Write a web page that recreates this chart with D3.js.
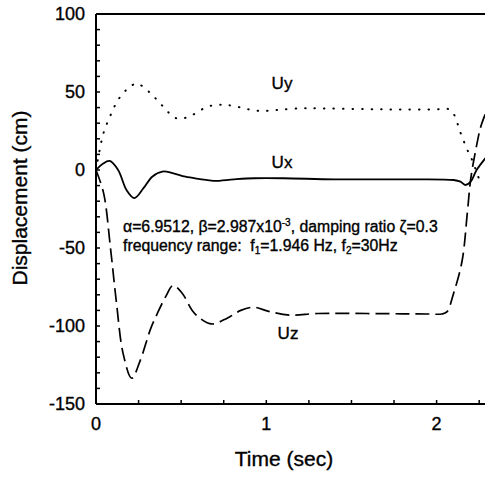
<!DOCTYPE html>
<html>
<head>
<meta charset="utf-8">
<script src="https://cdn.jsdelivr.net/npm/d3@7"></script>
<style>
  body { margin: 0; background: #fff; }
  text { font-family: "Liberation Sans", Arial, sans-serif; fill: #000; stroke: #000; stroke-width: 0.35px; white-space: pre; }
</style>
</head>
<body>
<div id="plot"></div>
<script>
// response histories (time in sec, displacement in cm)
const uxTime = [0, 0.04, 0.08, 0.13, 0.18, 0.225, 0.28, 0.33, 0.39, 0.45, 0.525, 0.61, 0.69, 0.81, 0.93, 1.1, 1.4, 1.79, 2.1, 2.14, 2.17, 2.2, 2.235, 2.29];
const uxVal  = [0, 4, 5.8, 0, -13, -18, -11.5, -4.3, -1, -2, -4.3, -5.8, -7, -6, -5.3, -5.3, -6, -6, -6.4, -7.5, -9.6, -7.5, 0, 8];

const uyTime = [0, 0.02, 0.045, 0.085, 0.13, 0.185, 0.24, 0.28, 0.34, 0.4, 0.455, 0.49, 0.54, 0.595, 0.65, 0.71, 0.76, 0.81, 0.89, 0.97, 1.06, 1.2, 1.3, 1.59, 1.8, 2.0, 2.07, 2.1, 2.14, 2.18, 2.21, 2.25];
const uyVal  = [0, 12, 24, 35, 45, 52, 55.5, 53, 47, 40, 34, 32.8, 34, 37, 40.4, 41.7, 41.7, 41, 39, 37.8, 38.5, 39.5, 39.5, 39, 38.8, 38.9, 39, 36, 24, 13, 6, -6];

const uzTime = [0, 0.045, 0.085, 0.12, 0.16, 0.21, 0.26, 0.32, 0.36, 0.41, 0.453, 0.506, 0.565, 0.61, 0.68, 0.77, 0.85, 0.927, 1.02, 1.14, 1.3, 1.59, 1.8, 1.95, 2.03, 2.06, 2.1, 2.15, 2.18, 2.2, 2.23, 2.26, 2.29];
const uzVal  = [0, -15, -50, -85, -118, -133.5, -122, -102, -92, -81, -74, -79, -90, -95, -98.7, -95, -90, -88, -90.8, -93, -92, -92, -92.2, -92.3, -92.3, -91, -79, -58, -28, -6, 13, 28, 37];

const xTicks = [0, 1, 2];
const yTicks = [-150, -100, -50, 0, 50, 100];

const width = 485, height = 477;
const m = { left: 96, top: 14, bottom: 404, right: 486 };

const svg = d3.select("#plot").append("svg")
  .attr("width", width)
  .attr("height", height);

const x = d3.scaleLinear().domain([0, 2.29]).range([m.left, m.right]);
const y = d3.scaleLinear().domain([-150, 100]).range([m.bottom, m.top]);

svg.append("clipPath").attr("id", "clip")
  .append("rect")
  .attr("x", m.left).attr("y", m.top)
  .attr("width", m.right - m.left).attr("height", m.bottom - m.top);

// frame
svg.append("line").attr("x1", m.left).attr("x2", m.right).attr("y1", m.top).attr("y2", m.top)
  .attr("stroke", "#000").attr("stroke-width", 2);
svg.append("line").attr("x1", m.left).attr("x2", m.right).attr("y1", m.bottom).attr("y2", m.bottom)
  .attr("stroke", "#000").attr("stroke-width", 2);
svg.append("line").attr("x1", m.left).attr("x2", m.left).attr("y1", m.top).attr("y2", m.bottom)
  .attr("stroke", "#000").attr("stroke-width", 2);

// inward ticks
svg.append("g").selectAll("line")
  .data(d3.range(0, 2.3, 0.25))
  .enter().append("line")
    .attr("x1", d => x(d)).attr("x2", d => x(d))
    .attr("y1", m.bottom).attr("y2", m.bottom - 4)
    .attr("stroke", "#000").attr("stroke-width", 1.5);

svg.append("g").selectAll("line")
  .data(d3.range(-150, 101, 10))
  .enter().append("line")
    .attr("x1", m.left).attr("x2", m.left + 4)
    .attr("y1", d => y(d)).attr("y2", d => y(d))
    .attr("stroke", "#000").attr("stroke-width", 1.5);

// tick labels
svg.append("g").selectAll("text")
  .data(xTicks)
  .enter().append("text")
    .attr("x", d => x(d))
    .attr("y", 430)
    .attr("text-anchor", "middle")
    .style("font-size", "18px")
    .text(d => d);

svg.append("g").selectAll("text")
  .data(yTicks)
  .enter().append("text")
    .attr("x", 85)
    .attr("y", d => y(d) + 6)
    .attr("text-anchor", "end")
    .style("font-size", "18px")
    .text(d => d);

// axis titles
svg.append("text")
  .attr("x", 284).attr("y", 466)
  .attr("text-anchor", "middle")
  .style("font-size", "21px")
  .text("Time (sec)");

svg.append("text")
  .attr("transform", "translate(27,198) rotate(-90)")
  .attr("text-anchor", "middle")
  .style("font-size", "21px")
  .text("Displacement (cm)");

// curves
const line = d3.line()
  .x(d => x(d[0]))
  .y(d => y(d[1]))
  .curve(d3.curveCatmullRom.alpha(0.5));

const curves = svg.append("g").attr("clip-path", "url(#clip)");

curves.append("path")
  .datum(d3.zip(uyTime, uyVal))
  .attr("d", line)
  .attr("fill", "none").attr("stroke", "#000")
  .attr("stroke-width", 2)
  .attr("stroke-linecap", "round")
  .attr("stroke-dasharray", "0.5,9");

curves.append("path")
  .datum(d3.zip(uxTime, uxVal))
  .attr("d", line)
  .attr("fill", "none").attr("stroke", "#000")
  .attr("stroke-width", 1.8);

curves.append("path")
  .datum(d3.zip(uzTime, uzVal))
  .attr("d", line)
  .attr("fill", "none").attr("stroke", "#000")
  .attr("stroke-width", 1.7)
  .attr("stroke-dasharray", "14,6");

// series labels
const labels = [["Uy", 282, 89], ["Ux", 282, 168], ["Uz", 288, 339]];
svg.append("g").selectAll("text")
  .data(labels)
  .enter().append("text")
    .attr("x", d => d[1]).attr("y", d => d[2])
    .attr("text-anchor", "middle")
    .style("font-size", "17px")
    .text(d => d[0]);

// parameter note
const note = svg.append("g").style("font-size", "15.8px");
const l1 = note.append("text").attr("x", 123).attr("y", 232);
l1.append("tspan").text("α=6.9512, β=2.987x10");
l1.append("tspan").attr("dy", -6).style("font-size", "10px").text("-3");
l1.append("tspan").attr("dy", 6).text(", damping ratio ζ=0.3");

const l2 = note.append("text").attr("x", 123).attr("y", 251);
l2.append("tspan").text("frequency range:  f");
l2.append("tspan").attr("dy", 3).style("font-size", "10px").text("1");
l2.append("tspan").attr("dy", -3).text("=1.946 Hz, f");
l2.append("tspan").attr("dy", 3).style("font-size", "10px").text("2");
l2.append("tspan").attr("dy", -3).text("=30Hz");
</script>
</body>
</html>
